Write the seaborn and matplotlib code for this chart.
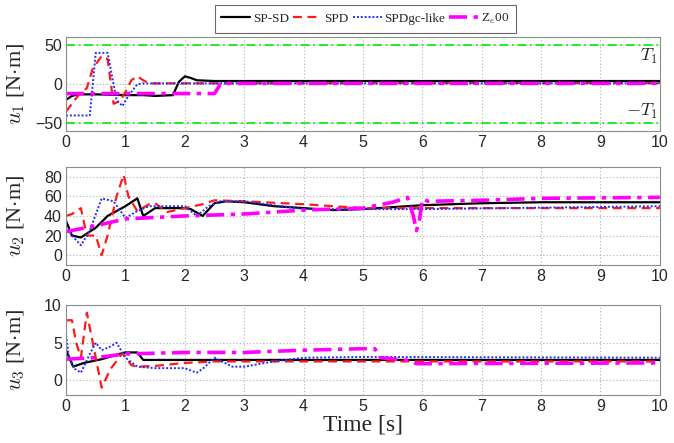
import numpy as np
import pandas as pd
import matplotlib
matplotlib.use("Agg")
import matplotlib.pyplot as plt
import seaborn as sns

# ---------------- data ----------------
series_names = ["SP-SD", "SPD", "SPDgc-like", "Z$_e$00"]

# u1
u1_spsd_t = [0, 0.1, 0.2, 0.5, 1.0, 1.3, 1.5, 1.8, 1.9, 2.0, 2.1, 2.2, 2.5, 10]
u1_spsd_v = [-20, -15, -13, -13, -14, -14, -15, -14, 3, 10, 8, 5, 4, 4]
u1_spd_t = [0, 0.2, 0.35, 0.45, 0.6, 0.7, 0.8, 0.9, 1.0, 1.1, 1.2, 1.3, 1.4, 10]
u1_spd_v = [-35, -15, -5, 20, 36, 32, -25, -22, -10, 5, 10, 5, 1, 1.5]
u1_gc_t = [0, 0.4, 0.45, 0.5, 0.7, 0.8, 0.85, 0.95, 1.05, 1.2, 1.3, 10]
u1_gc_v = [-40, -40, 0, 40, 40, 0, -20, -28, -15, 0, 1, 1]
u1_ze_t = [0, 2.5, 2.6, 2.65, 10]
u1_ze_v = [-12, -12, 0, 1, 1]

# u2
u2_spsd_t = [0, 0.1, 0.25, 0.5, 0.7, 1.0, 1.2, 1.3, 1.5, 2.0, 2.1, 2.3, 2.5, 2.7, 3.0, 3.5, 4.0, 4.5, 5.0, 5.5, 6.0, 7.0, 8.0, 10]
u2_spsd_v = [35, 20, 18, 28, 40, 50, 58, 40, 48, 48, 47, 40, 53, 55, 54, 50, 48, 46, 47, 49, 51, 53, 54, 54]
u2_spd_t = [0, 0.1, 0.25, 0.35, 0.5, 0.6, 0.7, 0.85, 0.97, 1.05, 1.2, 1.4, 1.5, 1.7, 2.0, 2.3, 2.5, 3.0, 4.0, 5.0, 6.0, 10]
u2_spd_v = [40, 42, 48, 20, 20, 0, 20, 60, 82, 60, 45, 52, 53, 44, 48, 52, 56, 55, 52, 48, 48, 48]
u2_gc_t = [0, 0.1, 0.25, 0.4, 0.6, 0.8, 1.0, 1.2, 1.4, 2.0, 2.1, 2.2, 2.4, 2.6, 3.0, 4.0, 5.0, 6.0, 10]
u2_gc_v = [30, 20, 10, 25, 58, 55, 38, 45, 50, 50, 45, 40, 50, 55, 55, 47, 47, 47, 50]
u2_ze_t = [0, 0.5, 1.0, 2.0, 3.0, 4.0, 5.0, 5.5, 5.75, 5.85, 5.9, 5.95, 6.0, 6.1, 7.0, 8.0, 10]
u2_ze_v = [24, 30, 37, 40, 42, 46, 48, 54, 59, 40, 25, 35, 57, 55, 56, 58, 59]

# u3
u3_spsd_t = [0, 0.12, 0.3, 0.6, 0.9, 1.0, 1.2, 1.3, 10]
u3_spsd_v = [4, 1.8, 2.3, 2.8, 3.5, 3.7, 3.7, 2.7, 2.7]
u3_spd_t = [0, 0.1, 0.17, 0.25, 0.35, 0.45, 0.6, 0.75, 0.95, 1.1, 1.2, 1.5, 2.0, 2.5, 3.0, 10]
u3_spd_v = [8, 8, 5, 3, 9, 5, -1, 1.5, 3.6, 2.0, 1.8, 1.9, 2.3, 2.5, 2.5, 2.5]
u3_gc_t = [0, 0.05, 0.15, 0.25, 0.4, 0.5, 0.6, 0.75, 0.85, 1.0, 1.2, 1.5, 2.0, 2.2, 2.3, 2.5, 2.8, 3.0, 3.5, 4.0, 5.0, 10]
u3_gc_v = [6, 3, 1.5, 1.0, 3.5, 5, 4, 4.5, 5, 3, 1.8, 1.6, 1.6, 1.0, 1.5, 3.0, 1.8, 1.8, 2.5, 3.0, 3.1, 3.0]
u3_ze_t = [0, 0.5, 1.0, 2.0, 3.0, 4.0, 5.0, 5.2, 5.3, 5.8, 5.9, 10]
u3_ze_v = [2.8, 3.0, 3.5, 3.7, 3.7, 4.0, 4.2, 4.2, 3.0, 2.6, 2.2, 2.3]

torque_limit = 50
xticks = list(range(0, 11))
y_ticks = [[-50, 0, 50], [0, 20, 40, 60, 80], [0, 5, 10]]
y_lims = [(-60, 60), (-10, 90), (-2, 10)]
y_labels = [r"$u_1$ [N$\cdot$m]", r"$u_2$ [N$\cdot$m]", r"$u_3$ [N$\cdot$m]"]

# ---------------- style ----------------
sns.set_theme(style="white")
plt.rcParams["font.family"] = ["Liberation Sans", "DejaVu Sans"]
plt.rcParams["mathtext.fontset"] = "cm"

styles = [
    dict(color="black", linestyle="-", linewidth=1.6),
    dict(color="#ff1a1a", linestyle=(0, (4, 2.5)), linewidth=1.6),
    dict(color="#1f2fff", linestyle=(0, (1, 1)), linewidth=1.4),
    dict(color="#ff00ff", linestyle=(0, (5, 1.8, 1.2, 1.8)), linewidth=2.6),
]

panels = [
    [(u1_spsd_t, u1_spsd_v), (u1_spd_t, u1_spd_v), (u1_gc_t, u1_gc_v), (u1_ze_t, u1_ze_v)],
    [(u2_spsd_t, u2_spsd_v), (u2_spd_t, u2_spd_v), (u2_gc_t, u2_gc_v), (u2_ze_t, u2_ze_v)],
    [(u3_spsd_t, u3_spsd_v), (u3_spd_t, u3_spd_v), (u3_gc_t, u3_gc_v), (u3_ze_t, u3_ze_v)],
]

fig = plt.figure(figsize=(6.74, 4.43), dpi=100)
rects = [
    [0.098, 0.704, 0.881, 0.212],
    [0.098, 0.402, 0.881, 0.221],
    [0.098, 0.108, 0.881, 0.203],
]

handles = []
for i, (rect, data) in enumerate(zip(rects, panels)):
    ax = fig.add_axes(rect)
    for name, (t, v), st in zip(series_names, data, styles):
        df = pd.DataFrame({"t": t, "v": v})
        sns.lineplot(data=df, x="t", y="v", ax=ax, estimator=None, sort=False,
                     label=name if i == 0 else None, legend=False, **st)
    if i == 0:
        ax.axhline(torque_limit, color="#11ee11", linestyle=(0, (5, 2, 1, 2)), linewidth=1.3)
        ax.axhline(-torque_limit, color="#11ee11", linestyle=(0, (5, 2, 1, 2)), linewidth=1.3)
        ax.text(9.97, 35, r"$T_1$", ha="right", va="center", fontsize=13)
        ax.text(9.97, -35, r"$-T_1$", ha="right", va="center", fontsize=13)
        handles, labels = ax.get_legend_handles_labels()
    ax.set_xlim(0, 10)
    ax.set_ylim(*y_lims[i])
    ax.set_xticks(xticks)
    ax.set_yticks(y_ticks[i])
    ax.grid(True, color="#b0b0b0", linestyle=(0, (1, 2)), linewidth=0.8)
    for sp in ax.spines.values():
        sp.set_color("#8c8c8c")
        sp.set_linewidth(0.8)
    ax.tick_params(axis="both", labelsize=11.5, direction="in", length=3,
                   color="#8c8c8c", pad=3)
    ax.set_ylabel(y_labels[i], fontsize=16, family=["Liberation Serif", "DejaVu Serif"],
                  labelpad=2)
    ax.set_xlabel("Time [s]" if i == 2 else "", fontsize=17,
                  family=["Liberation Serif", "DejaVu Serif"], labelpad=0)

for ax in fig.axes:
    ax.yaxis.set_label_coords(-0.065, 0.5)

leg = fig.legend(handles, labels, loc="center", bbox_to_anchor=(0.542, 0.957), ncol=4,
                 frameon=True, fancybox=False, handlelength=2.2,
                 columnspacing=0.3, handletextpad=0.2, borderpad=0.5,
                 prop={"family": ["Liberation Serif", "DejaVu Serif"], "size": 9.5})
leg.get_frame().set_edgecolor("#444444")
leg.get_frame().set_linewidth(0.8)

fig.savefig("out.png", dpi=100)
